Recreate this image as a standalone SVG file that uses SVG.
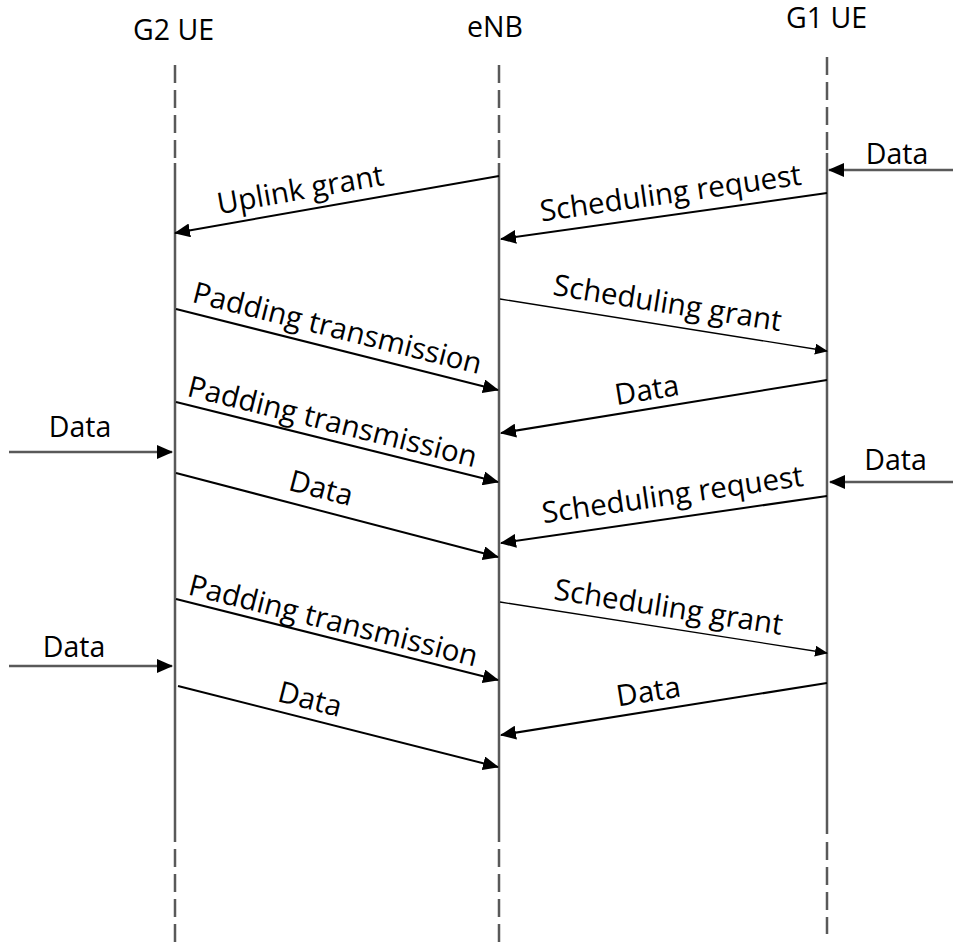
<svg xmlns="http://www.w3.org/2000/svg" width="953" height="944" viewBox="0 0 953 944">
<style>
.t{font-family:"Open Sans","Liberation Sans",sans-serif;font-size:29.5px;fill:#000;text-anchor:middle}
.h{font-size:28.5px}
.life{stroke:#595959;stroke-width:2.5;fill:none}
.dash{stroke-dasharray:18 7}
.msg{stroke:#000;stroke-width:2;fill:none;marker-end:url(#ah)}
.thin{stroke:#000;stroke-width:1.3;fill:none;marker-end:url(#ahs)}
.ext{stroke:#595959;stroke-width:2.5;fill:none;marker-end:url(#ah)}
</style>
<defs>
<marker id="ah" markerUnits="userSpaceOnUse" markerWidth="16" markerHeight="14" refX="15" refY="7" orient="auto"><path d="M0,0 L16,7 L0,14 z" fill="#000"/></marker>
<marker id="ahs" markerUnits="userSpaceOnUse" markerWidth="13" markerHeight="11" refX="12" refY="5.5" orient="auto"><path d="M0,0 L13,5.5 L0,11 z" fill="#000"/></marker>
</defs>
<rect width="953" height="944" fill="#fff"/>
<g id="g2ue">
<text class="t h" x="173.5" y="40">G2 UE</text>
<path class="life dash" d="M175,65 V163"/>
<path class="life" d="M175,163 V842"/>
<path class="life dash" d="M175,849 V944"/>
</g>
<g id="enb">
<text class="t h" x="495" y="37">eNB</text>
<path class="life dash" d="M499,65 V163"/>
<path class="life" d="M499,163 V842"/>
<path class="life dash" d="M499,849 V944"/>
</g>
<g id="g1ue">
<text class="t h" x="826.5" y="28">G1 UE</text>
<path class="life dash" d="M827,57 V153"/>
<path class="life" d="M827,153 V834"/>
<path class="life dash" d="M827,842 V934"/>
</g>
<g id="connectors">
<path class="msg" d="M499,176 L175,233"/>
<text class="t" transform="rotate(-9.98 302 199.5)" x="302" y="199.5">Uplink grant</text>
<path class="ext" d="M953,170 L829,170"/>
<text class="t h" x="897" y="164">Data</text>
<path class="msg" d="M827,193 L501,239"/>
<text class="t" transform="rotate(-8.03 672 203)" x="672" y="203">Scheduling request</text>
<path class="thin" d="M500,299 L827,351"/>
<text class="t" transform="rotate(9.04 666 313)" x="666" y="313">Scheduling grant</text>
<path class="msg" d="M176,309 L498,390"/>
<text class="t" transform="rotate(14.12 335 338)" x="335" y="338">Padding transmission</text>
<path class="msg" d="M827,380 L501,433"/>
<text class="t" transform="rotate(-9.23 648.5 400)" x="648.5" y="400">Data</text>
<path class="msg" d="M176,402 L498,482"/>
<text class="t" transform="rotate(13.95 330 431.5)" x="330" y="431.5">Padding transmission</text>
<path class="ext" d="M9,452 L172,452"/>
<text class="t h" x="80" y="437">Data</text>
<path class="msg" d="M176,473 L498,557"/>
<text class="t" transform="rotate(14.62 318.5 498)" x="318.5" y="498">Data</text>
<path class="ext" d="M953,482 L830,482"/>
<text class="t h" x="895.5" y="470">Data</text>
<path class="msg" d="M827,496 L501,543"/>
<text class="t" transform="rotate(-8.2 674 504.5)" x="674" y="504.5">Scheduling request</text>
<path class="msg" d="M176,599 L498,680"/>
<text class="t" transform="rotate(14.12 331 630.5)" x="331" y="630.5">Padding transmission</text>
<path class="thin" d="M500,602 L827,653"/>
<text class="t" transform="rotate(8.86 667 617)" x="667" y="617">Scheduling grant</text>
<path class="ext" d="M9,666 L172,666"/>
<text class="t h" x="74" y="657">Data</text>
<path class="msg" d="M827,683 L501,735"/>
<text class="t" transform="rotate(-9.06 650 701.5)" x="650" y="701.5">Data</text>
<path class="msg" d="M178,686 L498,767"/>
<text class="t" transform="rotate(14.2 307.5 709)" x="307.5" y="709">Data</text>
</g>
</svg>
